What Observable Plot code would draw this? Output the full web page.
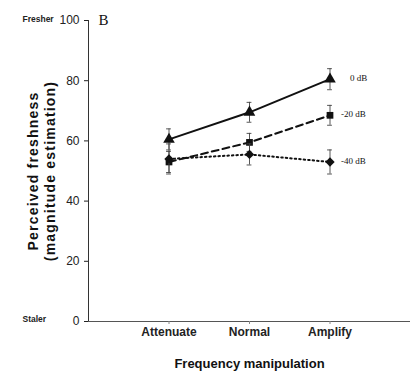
<!DOCTYPE html>
<html>
<head>
<meta charset="utf-8">
<script src="https://cdn.jsdelivr.net/npm/d3@7"></script>
<script src="https://cdn.jsdelivr.net/npm/@observablehq/plot@0.6"></script>
<style>
  body { margin: 0; background: #fff; }
  #chart svg { display: block; }
</style>
</head>
<body>
<div id="chart"></div>
<script>
const conditions = ["Attenuate", "Normal", "Amplify"];
const seriesNames = ["0 dB", "-20 dB", "-40 dB"];
const values0 = [60.5, 69.5, 80.5];
const values20 = [53, 59.5, 68.5];
const values40 = [54, 55.5, 53];
const err0 = [3.5, 3.3, 3.5];
const err20 = [3.5, 3, 3.3];
const err40 = [5, 3.5, 4];
const yTicks = [0, 20, 40, 60, 80, 100];

const series = [
  {name: seriesNames[0], vals: values0, errs: err0, symbol: "triangle", dash: null, r: 4.3, ldx: 20},
  {name: seriesNames[1], vals: values20, errs: err20, symbol: "square", dash: "7,4", r: 3.8, ldx: 11},
  {name: seriesNames[2], vals: values40, errs: err40, symbol: "diamond2", dash: "1.5,3", r: 4.2, ldx: 11}
];
const rows = series.flatMap(s => s.vals.map((v, i) => ({
  series: s.name, cond: conditions[i], x: i + 1, y: v, e: s.errs[i]
})));

const font = "'Liberation Sans Narrow', 'Liberation Sans', Arial, sans-serif";

const marks = [
  Plot.ruleX([0], {y1: 0, y2: 100, stroke: "#333", strokeWidth: 1}),
  Plot.ruleY([0], {x1: 0, x2: 4, stroke: "#555", strokeWidth: 1}),
  Plot.axisY(yTicks, {tickSize: 4, tickPadding: 5, fontSize: 12, fontFamily: font, color: "#222", label: null}),
  Plot.axisX([1, 2, 3], {tickSize: 3, tickPadding: 3, tickFormat: d => conditions[d - 1], fontSize: 12, fontWeight: "bold", fontFamily: font, color: "#222", stroke: "#888", label: null})
];
for (const s of series) {
  const data = rows.filter(r => r.series === s.name);
  marks.push(
    Plot.ruleX(data, {x: "x", y1: d => d.y - d.e, y2: d => d.y + d.e, stroke: "#444", strokeWidth: 0.9}),
    Plot.ruleY(data, {y: d => d.y - d.e, x1: d => d.x - 0.03, x2: d => d.x + 0.03, stroke: "#444", strokeWidth: 0.9}),
    Plot.ruleY(data, {y: d => d.y + d.e, x1: d => d.x - 0.03, x2: d => d.x + 0.03, stroke: "#444", strokeWidth: 0.9}),
    Plot.line(data, {x: "x", y: "y", stroke: "#111", strokeWidth: 2, strokeDasharray: s.dash}),
    Plot.dot(data, {x: "x", y: "y", symbol: s.symbol, r: s.r, fill: "#111", stroke: "none"}),
    Plot.text(data.slice(-1), {x: "x", y: "y", text: "series", dx: s.ldx, dy: -1, textAnchor: "start", fontSize: 9, fontFamily: "'Liberation Serif', serif", fill: "#111"})
  );
}
marks.push(
  Plot.text(["B"], {x: 0, y: 100, text: d => d, dx: 10, textAnchor: "start", fontSize: 15, fontFamily: "'Liberation Serif', serif", fill: "#111"}),
  Plot.text(["Fresher"], {x: 0, y: 100, text: d => d, dx: -66, dy: -1, textAnchor: "start", fontSize: 8.5, fontWeight: "bold", fontFamily: font, fill: "#222"}),
  Plot.text(["Staler"], {x: 0, y: 0, text: d => d, dx: -66, dy: -2, textAnchor: "start", fontSize: 8.5, fontWeight: "bold", fontFamily: font, fill: "#222"}),
  Plot.text(["Perceived freshness"], {x: 0, y: 50, text: d => d, dx: -55, rotate: -90, fontSize: 14, fontWeight: "bold", fontFamily: "'Liberation Sans', Arial, sans-serif", fill: "#111"}),
  Plot.text(["(magnitude estimation)"], {x: 0, y: 50, text: d => d, dx: -38, rotate: -90, fontSize: 14, fontWeight: "bold", fontFamily: "'Liberation Sans', Arial, sans-serif", fill: "#111"}),
  Plot.text(["Frequency manipulation"], {x: 2, y: 0, text: d => d, dy: 42, fontSize: 13, fontWeight: "bold", fontFamily: font, fill: "#111"})
);

const chart = Plot.plot({
  width: 415,
  height: 373,
  marginLeft: 88,
  marginRight: 5,
  marginTop: 20,
  marginBottom: 52,
  x: {type: "linear", domain: [0, 4], axis: null},
  y: {type: "linear", domain: [0, 100], axis: null},
  style: {background: "#fff", overflow: "visible"},
  marks
});
d3.select(chart).selectAll("text").filter(function () {
  const t = this.textContent;
  return t === "Perceived freshness" || t === "(magnitude estimation)";
}).attr("letter-spacing", "1.2px");
document.getElementById("chart").appendChild(chart);
</script>
</body>
</html>
